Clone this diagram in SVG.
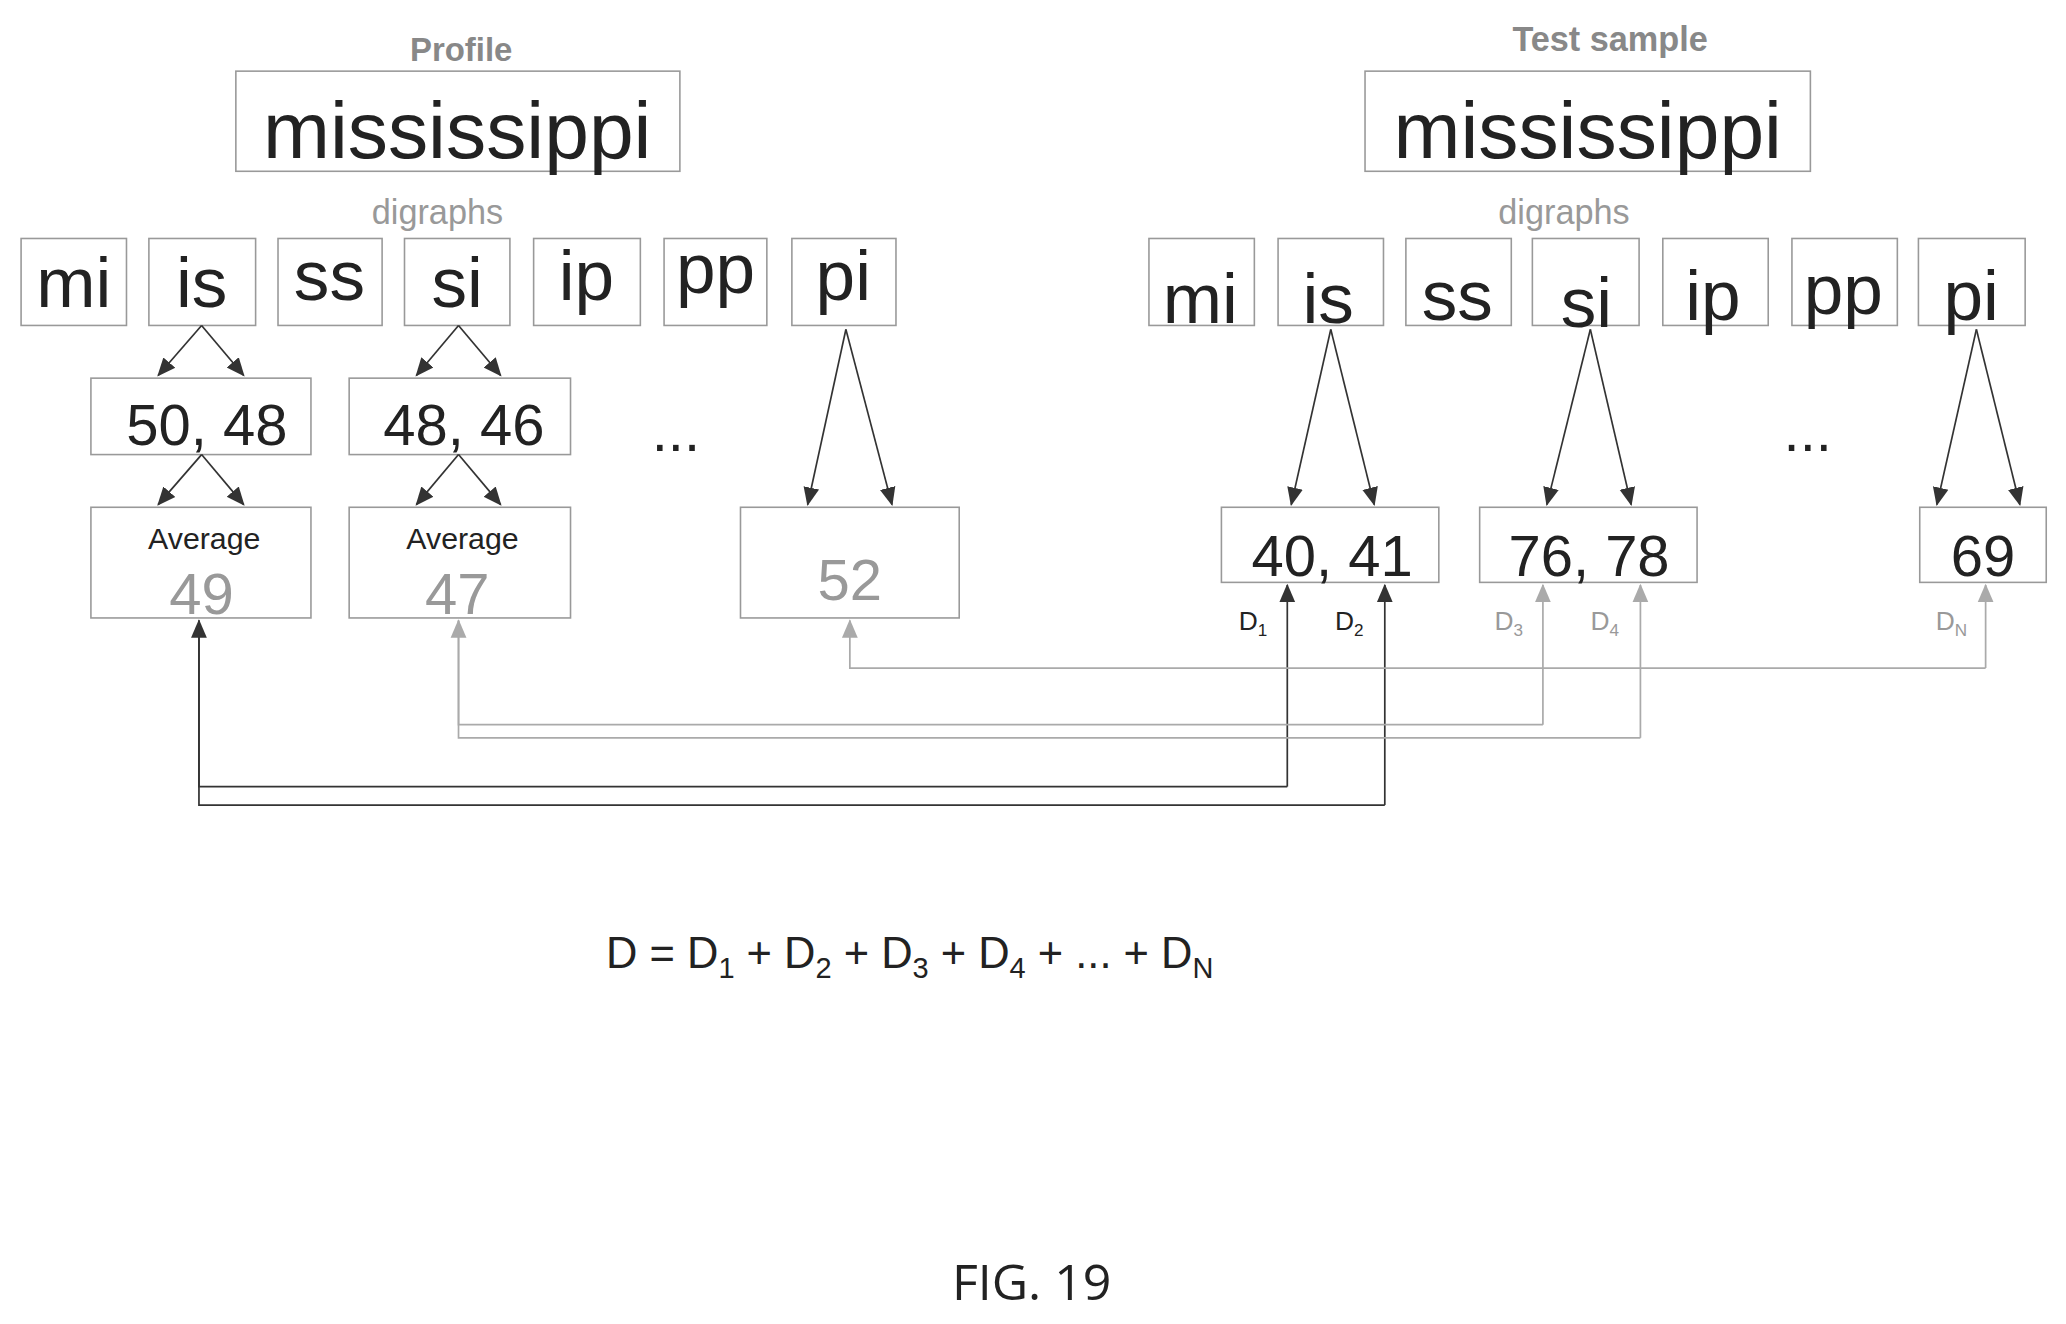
<svg xmlns="http://www.w3.org/2000/svg" width="2066" height="1324" viewBox="0 0 2066 1324">
<style>
.b{fill:#fff;stroke:#999;stroke-width:1.2}
text{font-family:"Liberation Sans",Arial,sans-serif;text-anchor:middle;fill:#222}
.g{fill:#999}
.big{font-size:61px}
.dg{font-size:54px}
.num{font-size:44px}
.hd{font-size:26px;font-weight:bold;fill:#888}
.sub{font-size:26px;fill:#999}
.d{font-size:20px}
.k{stroke:#333;stroke-width:1.3;fill:none}
.l{stroke:#aaa;stroke-width:1.3;fill:none}
</style>
<defs>
<marker id="ak" markerWidth="14" markerHeight="14" refX="13" refY="7" orient="auto" markerUnits="userSpaceOnUse"><path d="M0,1 L14,7 L0,13 Z" fill="#333"/></marker>
<marker id="al" markerWidth="14" markerHeight="14" refX="13" refY="7" orient="auto" markerUnits="userSpaceOnUse"><path d="M0,1 L14,7 L0,13 Z" fill="#aaa"/></marker>
</defs>
<rect width="2066" height="1324" fill="#fff"/>
<g transform="scale(1.3176)">
<g id="profile-title"><text x="350" y="46" class="hd" style="font-size:25px">Profile</text></g>
<g id="profile-word"><rect class="b" x="179" y="54" width="337" height="76"/><text x="347" y="120" class="big">mississippi</text></g>
<g id="profile-digraphs-label"><text x="332" y="170" class="sub">digraphs</text></g>
<g id="p-mi"><rect class="b" x="16" y="181" width="80" height="66"/><text x="56" y="233" class="dg">mi</text></g>
<g id="p-is"><rect class="b" x="113" y="181" width="81" height="66"/><text x="153" y="233" class="dg">is</text></g>
<g id="p-ss"><rect class="b" x="211" y="181" width="79" height="66"/><text x="250" y="228" class="dg">ss</text></g>
<g id="p-si"><rect class="b" x="307" y="181" width="80" height="66"/><text x="347" y="233" class="dg">si</text></g>
<g id="p-ip"><rect class="b" x="405" y="181" width="81" height="66"/><text x="445" y="228" class="dg">ip</text></g>
<g id="p-pp"><rect class="b" x="504" y="181" width="78" height="66"/><text x="543" y="222" class="dg">pp</text></g>
<g id="p-pi"><rect class="b" x="601" y="181" width="79" height="66"/><text x="640" y="228" class="dg">pi</text></g>
<g id="p-5048"><rect class="b" x="69" y="287" width="167" height="58"/><text x="157" y="338" class="num">50, 48</text></g>
<g id="p-4846"><rect class="b" x="265" y="287" width="168" height="58"/><text x="352" y="338" class="num">48, 46</text></g>
<g id="p-dots"><text x="513" y="342" class="num">...</text></g>
<g id="p-avg49"><rect class="b" x="69" y="385" width="167" height="84"/><text x="155" y="417" style="font-size:23px">Average</text><text x="153" y="466" class="num g">49</text></g>
<g id="p-avg47"><rect class="b" x="265" y="385" width="168" height="84"/><text x="351" y="417" style="font-size:23px">Average</text><text x="347" y="466" class="num g">47</text></g>
<g id="p-52"><rect class="b" x="562" y="385" width="166" height="84"/><text x="645" y="455" class="num g">52</text></g>

<g id="test-title"><text x="1222" y="39" class="hd">Test sample</text></g>
<g id="test-word"><rect class="b" x="1036" y="54" width="338" height="76"/><text x="1205" y="120" class="big">mississippi</text></g>
<g id="test-digraphs-label"><text x="1187" y="170" class="sub">digraphs</text></g>
<g id="t-mi"><rect class="b" x="872" y="181" width="80" height="66"/><text x="911" y="245" class="dg">mi</text></g>
<g id="t-is"><rect class="b" x="970" y="181" width="80" height="66"/><text x="1008" y="245" class="dg">is</text></g>
<g id="t-ss"><rect class="b" x="1067" y="181" width="80" height="66"/><text x="1106" y="243" class="dg">ss</text></g>
<g id="t-si"><rect class="b" x="1163" y="181" width="81" height="66"/><text x="1204" y="248" class="dg">si</text></g>
<g id="t-ip"><rect class="b" x="1262" y="181" width="80" height="66"/><text x="1300" y="243" class="dg">ip</text></g>
<g id="t-pp"><rect class="b" x="1360" y="181" width="80" height="66"/><text x="1399" y="238" class="dg">pp</text></g>
<g id="t-pi"><rect class="b" x="1456" y="181" width="81" height="66"/><text x="1496" y="243" class="dg">pi</text></g>
<g id="t-dots"><text x="1372" y="342" class="num">...</text></g>
<g id="t-4041"><rect class="b" x="927" y="385" width="165" height="57"/><text x="1011" y="437" class="num">40, 41</text></g>
<g id="t-7678"><rect class="b" x="1123" y="385" width="165" height="57"/><text x="1206" y="437" class="num">76, 78</text></g>
<g id="t-69"><rect class="b" x="1457" y="385" width="96" height="57"/><text x="1505" y="437" class="num">69</text></g>
<g id="d-labels">
<text x="951" y="478" class="d">D<tspan font-size="13" dy="5">1</tspan></text>
<text x="1024" y="478" class="d">D<tspan font-size="13" dy="5">2</tspan></text>
<text x="1145" y="478" class="d g">D<tspan font-size="13" dy="5">3</tspan></text>
<text x="1218" y="478" class="d g">D<tspan font-size="13" dy="5">4</tspan></text>
<text x="1481" y="478" class="d g">D<tspan font-size="13" dy="5">N</tspan></text>
</g>

<g id="connectors">
<path class="k" d="M153,247 L120,285" marker-end="url(#ak)"/>
<path class="k" d="M153,247 L185,285" marker-end="url(#ak)"/>
<path class="k" d="M348,247 L316,285" marker-end="url(#ak)"/>
<path class="k" d="M348,247 L380,285" marker-end="url(#ak)"/>
<path class="k" d="M153,345 L120,383" marker-end="url(#ak)"/>
<path class="k" d="M153,345 L185,383" marker-end="url(#ak)"/>
<path class="k" d="M348,345 L316,383" marker-end="url(#ak)"/>
<path class="k" d="M348,345 L380,383" marker-end="url(#ak)"/>
<path class="k" d="M642,250 L613,383" marker-end="url(#ak)"/>
<path class="k" d="M642,250 L677,383" marker-end="url(#ak)"/>
<path class="k" d="M1010,250 L980,383" marker-end="url(#ak)"/>
<path class="k" d="M1010,250 L1043,383" marker-end="url(#ak)"/>
<path class="k" d="M1207,250 L1174,383" marker-end="url(#ak)"/>
<path class="k" d="M1207,250 L1238,383" marker-end="url(#ak)"/>
<path class="k" d="M1500,250 L1470,383" marker-end="url(#ak)"/>
<path class="k" d="M1500,250 L1533,383" marker-end="url(#ak)"/>
<path class="k" d="M977,597 L151,597 L151,471" />
<path class="k" d="M977,597 L977,444" marker-end="url(#ak)"/>
<path class="k" d="M1051,611 L151,611 L151,471" marker-end="url(#ak)"/>
<path class="k" d="M1051,611 L1051,444" marker-end="url(#ak)"/>
<path class="l" d="M1171,550 L348,550 L348,471" marker-end="url(#al)"/>
<path class="l" d="M1171,550 L1171,444" marker-end="url(#al)"/>
<path class="l" d="M1245,560 L348,560 L348,471"/>
<path class="l" d="M1245,560 L1245,444" marker-end="url(#al)"/>
<path class="l" d="M1507,507 L645,507 L645,471" marker-end="url(#al)"/>
<path class="l" d="M1507,507 L1507,444" marker-end="url(#al)"/>
</g>

<g id="formula"><text x="460" y="735" style="font-size:33px;text-anchor:start">D = D<tspan font-size="22" dy="7">1</tspan><tspan dy="-7"> + D</tspan><tspan font-size="22" dy="7">2</tspan><tspan dy="-7"> + D</tspan><tspan font-size="22" dy="7">3</tspan><tspan dy="-7"> + D</tspan><tspan font-size="22" dy="7">4</tspan><tspan dy="-7"> + ... + D</tspan><tspan font-size="22" dy="7">N</tspan></text></g>
<g id="caption"><text x="783" y="987" style="font-size:38px;font-family:'Open Sans','DejaVu Sans',sans-serif">FIG. 19</text></g>
</g>
</svg>
